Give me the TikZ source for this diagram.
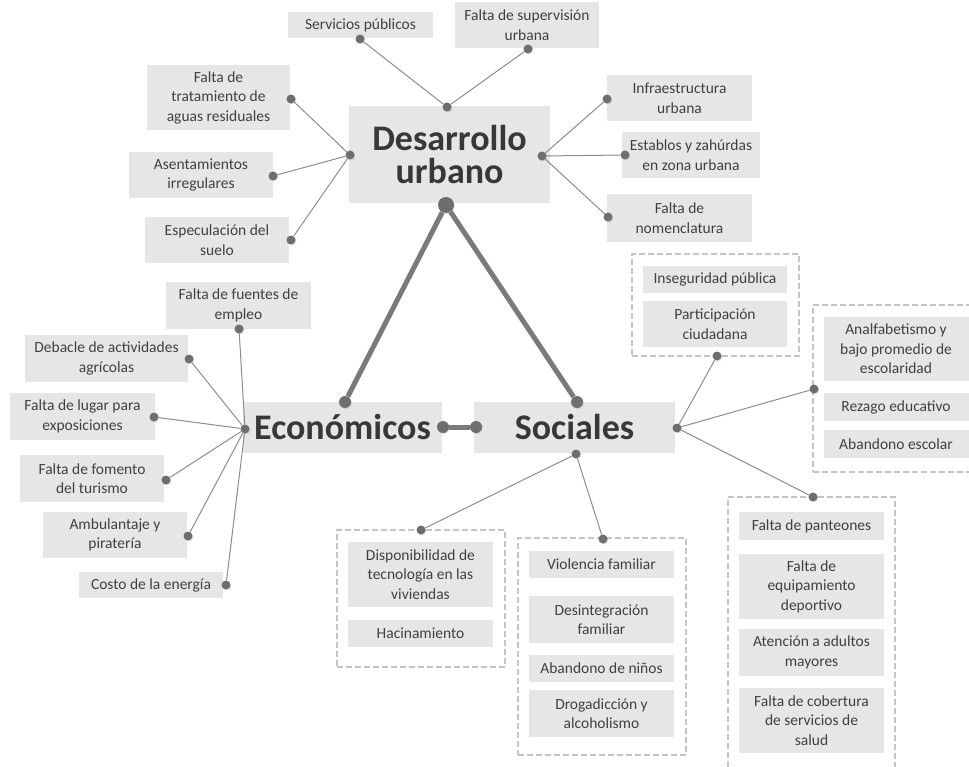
\documentclass[tikz,border=0pt]{standalone}
\usepackage{fontspec}
\setmainfont{Carlito}
\usetikzlibrary{shadows}
\definecolor{boxgray}{HTML}{E6E6E6}
\definecolor{txtgray}{HTML}{404040}
\definecolor{bigtxt}{HTML}{383838}
\definecolor{dotgray}{HTML}{6E6E6E}
\definecolor{linegray}{HTML}{8C8C8C}
\definecolor{thickgray}{HTML}{7A7A7A}
\definecolor{dashgray}{HTML}{C4C4C4}
\begin{document}
\begin{tikzpicture}[x=1pt,y=-1pt,
    box/.style = {fill=boxgray, text=txtgray, align=center, inner sep=0pt, font=\fontsize{15.5}{19.5}\selectfont},
    main/.style = {fill=boxgray, text=bigtxt, align=center, inner sep=0pt, font=\bfseries\fontsize{36}{33}\selectfont},
    group/.style = {draw=dashgray, line width=1.2pt, dash pattern=on 6pt off 3pt, inner sep=0pt},
    dot/.style = {circle, fill=dotgray, inner sep=0pt, minimum size=9pt, drop shadow={opacity=0.2, shadow xshift=1pt, shadow yshift=-1pt}},
    middot/.style = {dot, minimum size=12pt},
    bigdot/.style = {dot, minimum size=16pt},
    link/.style = {draw=linegray, line width=1pt},
    thicklink/.style = {draw=thickgray, line width=5pt}]
        \clip (0,0) rectangle (969,767);
        % desarrollo urbano
        \node[main, minimum width=201, minimum height=97] (du) at (449.5,154.5) {Desarrollo\\urbano};
        \node[box, minimum width=145, minimum height=26] (sp) at (360.5,25) {Servicios públicos};
        \node[box, minimum width=144, minimum height=46] (fs) at (527,25) {Falta de supervisión\\urbana};
        \node[box, minimum width=143, minimum height=65] (ft) at (218.5,97.5) {Falta de\\tratamiento de\\aguas residuales};
        \node[box, minimum width=144, minimum height=46] (ai) at (201,175) {Asentamientos\\irregulares};
        \node[box, minimum width=144, minimum height=46] (es) at (217,240) {Especulación del\\suelo};
        \node[box, minimum width=145, minimum height=46] (iu) at (679.5,98) {Infraestructura\\urbana};
        \node[box, minimum width=138, minimum height=46] (ez) at (691,155) {Establos y zahúrdas\\en zona urbana};
        \node[box, minimum width=145, minimum height=48] (fn) at (679.5,218) {Falta de\\nomenclatura};
        %
        \node[dot] (du-t) at (447,107) {};
        \node[dot] (du-l) at (350,155) {};
        \node[dot] (du-r) at (542,156) {};
        \node[dot] (sp-d) at (360,39) {};
        \node[dot] (fs-d) at (528,49) {};
        \node[dot] (ft-d) at (291,99) {};
        \node[dot] (ai-d) at (273,176) {};
        \node[dot] (es-d) at (291,240) {};
        \node[dot] (iu-d) at (607,99) {};
        \node[dot] (ez-d) at (625,155) {};
        \node[dot] (fn-d) at (608,217) {};
        \draw[link] (du-t) -- (sp-d);
        \draw[link] (du-t) -- (fs-d);
        \draw[link] (du-l) -- (ft-d);
        \draw[link] (du-l) -- (ai-d);
        \draw[link] (du-l) -- (es-d);
        \draw[link] (du-r) -- (iu-d);
        \draw[link] (du-r) -- (ez-d);
        \draw[link] (du-r) -- (fn-d);
        % economicos
        \node[main, minimum width=199, minimum height=51] (ec) at (342.5,427.5) {Económicos};
        \node[box, minimum width=145, minimum height=47] (ff) at (238.5,305.5) {Falta de fuentes de\\empleo};
        \node[box, minimum width=163, minimum height=47] (da) at (106.5,358.5) {Debacle de actividades\\agrícolas};
        \node[box, minimum width=145, minimum height=47] (fl) at (82.5,416.5) {Falta de lugar para\\exposiciones};
        \node[box, minimum width=144, minimum height=47] (fo) at (92,478.5) {Falta de fomento\\del turismo};
        \node[box, minimum width=144, minimum height=46] (ap) at (115,535) {Ambulantaje y\\piratería};
        \node[box, minimum width=144, minimum height=26] (ce) at (151,585) {Costo de la energía};
        %
        \node[dot] (ec-l) at (245,429) {};
        \node[dot] (ff-d) at (239,329) {};
        \node[dot] (da-d) at (189,359) {};
        \node[dot] (fl-d) at (154,417) {};
        \node[dot] (fo-d) at (166,480) {};
        \node[dot] (ap-d) at (188,536) {};
        \node[dot] (ce-d) at (226,585) {};
        \foreach \n in {ff,da,fl,fo,ap,ce}
            \draw[link] (ec-l) -- (\n-d);
        % sociales
        \node[main, minimum width=201, minimum height=51] (so) at (574.5,427.5) {Sociales};
        \node[group, minimum width=167, minimum height=102] (g1) at (715.5,305) {};
        \node[box, minimum width=144, minimum height=27] (ip) at (715,279.5) {Inseguridad pública};
        \node[box, minimum width=144, minimum height=46] (pc) at (715,324) {Participación\\ciudadana};
        \node[group, minimum width=167, minimum height=167] (g2) at (896.5,388.5) {};
        \node[box, minimum width=145, minimum height=64] (an) at (896,349) {Analfabetismo y\\bajo promedio de\\escolaridad};
        \node[box, minimum width=145, minimum height=28] (re) at (896,407) {Rezago educativo};
        \node[box, minimum width=145, minimum height=28] (ae) at (896,444) {Abandono escolar};
        \node[group, minimum width=167, minimum height=293] (g3) at (811.5,643.5) {};
        \node[box, minimum width=145, minimum height=28] (pa) at (811.5,526) {Falta de panteones};
        \node[box, minimum width=145, minimum height=65] (eq) at (811.5,586.5) {Falta de\\equipamiento\\deportivo};
        \node[box, minimum width=145, minimum height=47] (am) at (811.5,652.5) {Atención a adultos\\mayores};
        \node[box, minimum width=145, minimum height=65] (cs) at (811.5,720.5) {Falta de cobertura\\de servicios de\\salud};
        \node[group, minimum width=168, minimum height=137] (g4) at (421,598.5) {};
        \node[box, minimum width=145, minimum height=65] (dt) at (420.5,574.5) {Disponibilidad de\\tecnología en las\\viviendas};
        \node[box, minimum width=145, minimum height=27] (ha) at (420.5,633.5) {Hacinamiento};
        \node[group, minimum width=168, minimum height=217] (g5) at (602,646.5) {};
        \node[box, minimum width=145, minimum height=27] (vf) at (601.5,564.5) {Violencia familiar};
        \node[box, minimum width=145, minimum height=47] (df) at (601.5,619.5) {Desintegración\\familiar};
        \node[box, minimum width=145, minimum height=27] (an2) at (601.5,668.5) {Abandono de niños};
        \node[box, minimum width=145, minimum height=47] (dr) at (601.5,713.5) {Drogadicción y\\alcoholismo};
        %
        \node[dot] (so-r) at (677,428) {};
        \node[dot] (so-b) at (576,454) {};
        \node[dot] (g1-d) at (717,356) {};
        \node[dot] (g2-d) at (814,389) {};
        \node[dot] (g3-d) at (813,497) {};
        \node[dot] (g4-d) at (421,530) {};
        \node[dot] (g5-d) at (603,539) {};
        \draw[link] (so-r) -- (g1-d);
        \draw[link] (so-r) -- (g2-d);
        \draw[link] (so-r) -- (g3-d);
        \draw[link] (so-b) -- (g4-d);
        \draw[link] (so-b) -- (g5-d);
        % triangle
        \node[bigdot] (du-b) at (446,205) {};
        \node[middot] (ec-t) at (345,402) {};
        \node[middot] (so-t) at (577,402) {};
        \node[middot] (ec-r) at (443,427) {};
        \node[middot] (so-l) at (476,427) {};
        \draw[thicklink] (du-b) -- (ec-t);
        \draw[thicklink] (du-b) -- (so-t);
        \draw[thicklink] (ec-r) -- (so-l);
      \end{tikzpicture}
\end{document}
